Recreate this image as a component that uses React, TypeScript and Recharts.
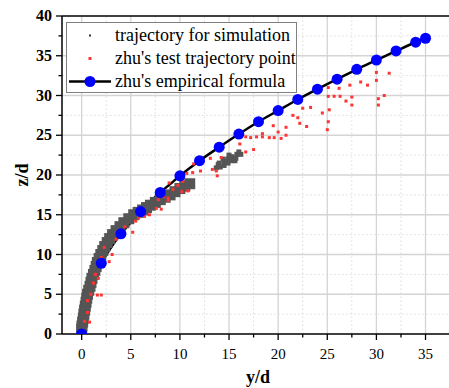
import { ComposedChart, Line, Scatter, XAxis, YAxis, ReferenceLine, Legend } from 'recharts'

const FONT = '"Liberation Serif", "Times New Roman", serif'

// zhu's empirical formula (curve + markers)
const formulaCurve: [number, number][] = [
  [0, 0], [0.05, 1.4], [0.1, 2.0], [0.2, 2.8], [0.35, 3.7], [0.5, 4.45], [0.75, 5.45],
  [1, 6.3], [1.5, 7.7], [2, 8.9], [3, 10.9], [4, 12.6], [5, 14.05], [6, 15.4], [7, 16.65],
  [8, 17.8], [9, 18.85], [10, 19.9], [12, 21.8], [14, 23.5], [16, 25.15], [18, 26.7],
  [20, 28.1], [22, 29.5], [24, 30.8], [26, 32.05], [28, 33.3], [30, 34.45], [32, 35.6],
  [34, 36.7], [35, 37.2]
]
const formulaMarkers: [number, number][] = [
  [0, 0], [2, 8.9], [4, 12.6], [6, 15.4], [8, 17.8], [10, 19.9], [12, 21.8], [14, 23.5],
  [16, 25.15], [18, 26.7], [20, 28.1], [22, 29.5], [24, 30.8], [26, 32.05], [28, 33.3],
  [30, 34.45], [32, 35.6], [34, 36.7], [35, 37.2]
]

// trajectory for simulation (dense band, then a separate cluster)
const simBand: [number, number][] = [
  [0, 0.6], [0.03, 1], [0.1, 1.5], [0.17, 2], [0.23, 2.5], [0.3, 3], [0.37, 3.5], [0.45, 4],
  [0.52, 4.5], [0.6, 5], [0.72, 5.5], [0.85, 6], [0.95, 6.5], [1.05, 7], [1.2, 7.5],
  [1.35, 8], [1.48, 8.5], [1.6, 9], [1.78, 9.5], [1.95, 10], [2.15, 10.5], [2.35, 11],
  [2.6, 11.5], [2.85, 12], [3.15, 12.5], [3.5, 13], [3.9, 13.5], [4.3, 14], [4.8, 14.5],
  [5.3, 15], [5.75, 15.3], [6.2, 15.6], [6.6, 15.9], [7.0, 16.2], [7.5, 16.55], [8.0, 16.9],
  [8.5, 17.2], [9.0, 17.5], [9.5, 17.9], [10.0, 18.3], [10.5, 18.6], [11.0, 18.9]
]
const simCluster: [number, number][] = [
  [13.7, 20.9], [14.1, 21.0], [14.5, 21.2], [14.0, 21.5], [14.5, 21.7], [14.9, 21.5],
  [15.3, 21.8], [14.9, 22.0], [15.3, 22.3], [15.7, 22.1], [15.8, 22.6], [16.2, 22.6],
  [16.0, 22.9], [15.0, 22.5], [14.4, 22.0], [13.9, 21.3], [15.6, 21.8]
]

// zhu's test trajectory points
const testPoints: [number, number][] = [
  [0.3, 1.6], [0.8, 1.5], [0.6, 2.7], [0.6, 4.2], [0.95, 5.0], [1.6, 4.9], [2.0, 4.9],
  [1.2, 6.4], [1.4, 7.5], [1.7, 7.0], [2.0, 9.6], [2.8, 9.1], [3.1, 10.0], [2.3, 10.9],
  [3.5, 11.9], [4.4, 13.5], [5.2, 12.8], [5.5, 14.2], [5.8, 14.6], [6.4, 14.8], [6.9, 15.0],
  [7.6, 15.8], [8.1, 15.7], [7.8, 16.9], [8.3, 17.3], [8.8, 16.8], [8.8, 17.1], [8.3, 17.8],
  [8.9, 19.0], [9.3, 18.2], [9.8, 18.7], [10.2, 17.9], [10.8, 18.0], [10.3, 19.2],
  [10.7, 20.2], [11.3, 20.3], [11.4, 21.4], [12.1, 20.5], [13.3, 20.7], [13.7, 20.5],
  [13.8, 19.9], [13.1, 22.1], [14.2, 22.2], [16.1, 23.9], [16.7, 22.9], [17.5, 23.2],
  [16.7, 24.8], [17.2, 24.7], [17.8, 24.8], [18.4, 24.8], [18.4, 25.2], [19.1, 24.7],
  [19.6, 24.7], [20.3, 24.6], [20.8, 25.0], [20.0, 25.4], [19.5, 26.2], [20.8, 26.0],
  [21.5, 27.5], [22.0, 27.2], [22.2, 26.5], [22.9, 26.1], [22.5, 28.4], [23.3, 28.5],
  [24.5, 27.8], [25.2, 28.2], [25.1, 26.7], [25.0, 25.7], [25.1, 29.9], [25.7, 29.9],
  [26.3, 29.9], [26.9, 29.3], [27.5, 29.8], [27.5, 28.8], [25.1, 31.0], [26.2, 30.9],
  [27.3, 31.3], [28.4, 31.7], [29.1, 31.3], [30.0, 31.9], [30.0, 32.9], [31.3, 32.8],
  [30.2, 29.6], [30.8, 30.0], [30.2, 28.8]
]

const xTicks = [0, 2.5, 5, 7.5, 10, 12.5, 15, 17.5, 20, 22.5, 25, 27.5, 30, 32.5, 35, 37.5]
const yTicks = [0, 2.5, 5, 7.5, 10, 12.5, 15, 17.5, 20, 22.5, 25, 27.5, 30, 32.5, 35, 37.5, 40]
const xGrid = [0, 2.5, 5, 7.5, 10, 12.5, 15, 17.5, 20, 22.5, 25, 27.5, 30, 32.5, 35, 37.5]
const yGrid = [2.5, 5, 7.5, 10, 12.5, 15, 17.5, 20, 22.5, 25, 27.5, 30, 32.5, 35, 37.5]

const toRows = (pts: [number, number][]) => pts.map(([yd, zd]) => ({ yd, zd }))

function YTick({ x, y, payload }: any) {
  const major = payload.value % 5 === 0
  return (
    <g>
      <line x1={x} x2={x - (major ? 6 : 3.5)} y1={y} y2={y} stroke="#000" strokeWidth={1.3} />
      {major && (
        <text x={x - 10} y={y} dy={5} textAnchor="end" fontFamily={FONT} fontSize={16} fontWeight="bold" fill="#000">
          {payload.value}
        </text>
      )}
    </g>
  )
}

function XTick({ x, y, payload }: any) {
  const major = payload.value % 5 === 0
  return (
    <g>
      <line x1={x} x2={x} y1={y} y2={y + (major ? 6 : 3.5)} stroke="#000" strokeWidth={1.3} />
      {major && (
        <text x={x} y={y + 25} textAnchor="middle" fontFamily={FONT} fontSize={15} fill="#000">
          {payload.value}
        </text>
      )}
    </g>
  )
}

const bandSquare = ({ cx, cy }: any) => <rect x={cx - 5.5} y={cy - 5.5} width={11} height={11} fill="#555" />
const clusterSquare = ({ cx, cy }: any) => <rect x={cx - 2.5} y={cy - 2.5} width={5} height={5} fill="#555" />
const redSquare = ({ cx, cy }: any) => <rect x={cx - 1.5} y={cy - 1.5} width={3} height={3} fill="#ff3535" />
const blueDot = ({ cx, cy }: any) => <circle cx={cx} cy={cy} r={5.5} fill="#0000ff" />

function LegendBox() {
  const row = { display: 'flex', alignItems: 'center', height: 23 }
  const label = { fontFamily: FONT, fontSize: 18, color: '#000', marginLeft: 2, whiteSpace: 'nowrap' as const }
  return (
    <div style={{ border: '1px solid #808080', background: '#fff', width: 229, height: 68, paddingTop: 1, boxSizing: 'content-box' }}>
      <div style={row}>
        <svg width={46} height={23}><rect x={22} y={10.5} width={2} height={2} fill="#333" /></svg>
        <span style={label}>trajectory for simulation</span>
      </div>
      <div style={row}>
        <svg width={46} height={23}><rect x={21.5} y={10} width={3} height={3} fill="#ff3535" /></svg>
        <span style={label}>zhu's test trajectory point</span>
      </div>
      <div style={row}>
        <svg width={46} height={23}>
          <line x1={2} x2={44} y1={11.5} y2={11.5} stroke="#000" strokeWidth={2.5} />
          <circle cx={23} cy={11.5} r={5.5} fill="#0000ff" />
        </svg>
        <span style={label}>zhu's empirical formula</span>
      </div>
    </div>
  )
}

export default function App() {
  return (
    <div style={{ position: 'absolute', left: 0, top: 0, width: 449, height: 388, overflow: 'hidden', background: '#fff' }}>
      <ComposedChart width={460} height={388} margin={{ top: 16, right: 5, bottom: 0, left: 0 }}>
        <XAxis
          type="number"
          dataKey="yd"
          domain={[-2, 38]}
          ticks={xTicks}
          interval={0}
          allowDataOverflow
          height={54}
          tickSize={0}
          tickMargin={0}
          tick={<XTick />}
          axisLine={{ stroke: '#000', strokeWidth: 1.5 }}
          label={{ content: () => <text x={258} y={383} textAnchor="middle" fontFamily={FONT} fontSize={18} fontWeight="bold">y/d</text> }}
        />
        <YAxis
          type="number"
          dataKey="zd"
          domain={[0, 40]}
          ticks={yTicks}
          interval={0}
          allowDataOverflow
          width={62}
          tickSize={0}
          tickMargin={0}
          tick={<YTick />}
          axisLine={{ stroke: '#000', strokeWidth: 1.5 }}
          label={{ content: () => <text x={28} y={175} transform="rotate(-90 28 175)" textAnchor="middle" fontFamily={FONT} fontSize={18} fontWeight="bold">z/d</text> }}
        />
        {xGrid.map((v) => (
          <ReferenceLine key={`gx${v}`} x={v} stroke={v % 5 === 0 ? '#d4d4d4' : '#dcdcdc'} strokeWidth={v % 5 === 0 ? 1.3 : 1} strokeDasharray={v % 5 === 0 ? undefined : '1.5 2.5'} />
        ))}
        {yGrid.map((v) => (
          <ReferenceLine key={`gy${v}`} y={v} stroke={v % 5 === 0 ? '#d4d4d4' : '#dcdcdc'} strokeWidth={v % 5 === 0 ? 1.3 : 1} strokeDasharray={v % 5 === 0 ? undefined : '1.5 2.5'} />
        ))}
        <ReferenceLine y={40} stroke="#000" strokeWidth={1.5} />
        <ReferenceLine x={38} stroke="#000" strokeWidth={1.5} />
        <Scatter name="trajectory for simulation" data={toRows(simBand)} dataKey="zd" shape={bandSquare} isAnimationActive={false} />
        <Scatter name="sim cluster" data={toRows(simCluster)} dataKey="zd" shape={clusterSquare} legendType="none" isAnimationActive={false} />
        <Scatter name="zhu's test trajectory point" data={toRows(testPoints)} dataKey="zd" shape={redSquare} isAnimationActive={false} />
        <Line name="zhu's empirical formula" data={toRows(formulaCurve)} dataKey="zd" type="monotone" stroke="#000" strokeWidth={2.5} dot={false} isAnimationActive={false} />
        <Scatter name="formula markers" data={toRows(formulaMarkers)} dataKey="zd" shape={blueDot} legendType="none" isAnimationActive={false} />
        <Legend
          layout="vertical"
          align="center"
          verticalAlign="middle"
          content={() => <LegendBox />}
          wrapperStyle={{ position: 'absolute', left: 66, top: 22, width: 231, height: 70 }}
        />
      </ComposedChart>
    </div>
  )
}
